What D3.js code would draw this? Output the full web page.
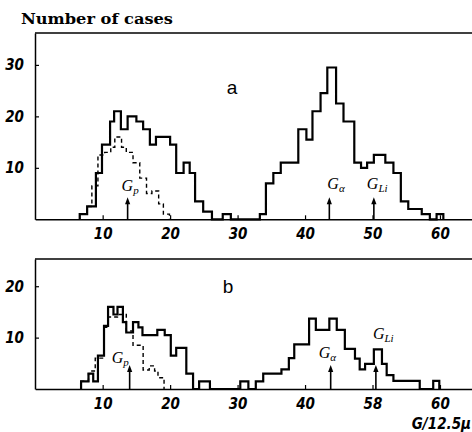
<!DOCTYPE html>
<html>
<head>
<meta charset="utf-8">
<script src="https://cdn.jsdelivr.net/npm/d3@7"></script>
<style>
body { margin: 0; background: #fff; }
svg { display: block; }
.tick text { font-family: "Liberation Sans Narrow", "DejaVu Sans Condensed", sans-serif; font-style: italic; font-weight: bold; font-size: 15px; }
</style>
</head>
<body>
<svg id="chart" width="472" height="432"></svg>
<script>
'use strict'

// steps: [left edge in G/12.5u, number of cases], a 0 closes the outline
const aSolid = [
	[6.6, 1], [7.7, 2.5], [9.0, 9], [9.9, 14.5], [11.1, 19], [11.7, 21], [12.7, 17.5], [13.7, 20],
	[15.0, 19], [16.0, 17.5], [17.0, 14.5], [17.9, 16], [20.0, 14.5], [20.9, 9], [22.0, 11], [22.9, 9],
	[23.7, 3.5], [24.9, 1.5], [26.2, 0], [27.8, 1], [29.0, 0],
	[33.3, 1], [34.2, 7], [35.3, 9], [36.4, 11], [39.0, 17.5], [40.2, 15.5], [41.1, 21], [42.3, 24.5],
	[43.3, 29.5], [44.6, 22.5], [45.7, 19], [47.3, 11], [48.3, 10], [49.2, 11], [50.2, 12.5], [51.9, 11],
	[53.1, 9], [54.2, 3.5], [55.3, 2], [57.3, 1], [58.5, 0], [59.5, 1], [60.5, 0]
]
const aDashed = [
	[6.6, 1], [7.7, 2.5], [8.4, 6.5], [9.3, 12.5], [10.3, 13], [11.2, 14], [11.8, 16], [12.8, 14],
	[13.5, 13], [14.5, 11], [15.5, 8], [16.5, 5], [17.3, 5.5], [18.3, 3], [19.0, 1], [19.9, 0]
]
const bSolid = [
	[6.8, 1.5], [7.9, 3], [8.6, 1.5], [9.3, 6.5], [10.2, 12.3], [10.8, 16], [11.6, 14.5], [12.2, 16],
	[13.0, 13], [13.5, 11], [14.5, 13], [15.3, 12], [15.9, 10.5], [18.1, 11.5], [19.2, 10.5], [20.1, 6.5],
	[20.9, 8], [22.4, 3], [23.4, 0], [24.3, 1.5], [25.9, 0], [30.4, 1.5], [31.6, 0],
	[32.7, 1.5], [33.8, 3], [36.5, 3.8], [37.6, 6], [38.4, 8.7], [40.6, 13.7], [41.6, 11.5], [43.6, 13.7],
	[44.7, 11.5], [45.9, 7.8], [47.4, 5.9], [48.1, 3.8], [48.9, 4.9], [50.2, 7.7], [51.4, 4.9], [52.1, 2.7],
	[53.1, 1.6], [57.0, 0], [59.0, 1.6], [59.9, 0]
]
const bDashed = [
	[6.8, 1.5], [7.9, 3], [8.4, 3.5], [8.9, 6], [10.2, 12], [10.8, 14], [12.2, 14.5], [13.5, 11.3],
	[14.5, 8.5], [16.0, 3.7], [16.9, 4.5], [17.7, 3.5], [18.2, 2.2], [19.1, 0]
]

const xTicks = [10, 20, 30, 40, 50, 60]
const aXLabels = ['10', '20', '30', '40', '50', '60']
const bXLabels = ['10', '20', '30', '40', '58', '60']
const aYTicks = [10, 20, 30]
const bYTicks = [10, 20]

// arrow positions of the marked G values
const markNames = ['p', 'α', 'Li']
const aMarks = [13.7, 43.6, 50.2]
const bMarks = [14.0, 43.8, 50.5]

const svg = d3.select('#chart')
const x = d3.scaleLinear().domain([0, 65]).range([35.2, 473.7])

const panels = [
	{ top: 33, base: 219.3, max: 36.2, solid: aSolid, dashed: aDashed, yTicks: aYTicks, xLabels: aXLabels,
		marks: aMarks, letter: 'a', letterPos: [232, 94], arrowLen: 22,
		labelOff: [[-6, -6], [-2, -8], [-7, -8]] },
	{ top: 259, base: 389, max: 25.3, solid: bSolid, dashed: bDashed, yTicks: bYTicks, xLabels: bXLabels,
		marks: bMarks, letter: 'b', letterPos: [228, 293], arrowLen: 24,
		labelOff: [[-18, -2], [-12, -7], [-3, -26]] }
]

function drawArrow(g, px, y0, y1) {
	g.append('line')
		.attr('x1', px).attr('x2', px)
		.attr('y1', y0).attr('y2', y1 + 5)
		.attr('stroke', '#000').attr('stroke-width', 1.6)
	g.append('path')
		.attr('d', 'M' + (px - 2.6) + ',' + (y1 + 7) + 'L' + px + ',' + y1 + 'L' + (px + 2.6) + ',' + (y1 + 7) + 'Z')
		.attr('fill', '#000')
}

function drawLabel(g, px, py, sub) {
	let t = g.append('text')
		.attr('x', px).attr('y', py)
		.attr('font-family', '"Liberation Serif", "DejaVu Serif", serif')
		.attr('font-style', 'italic')
		.attr('font-size', 16)
	t.append('tspan').text('G')
	t.append('tspan').attr('font-size', 11).attr('dy', 3).text(sub)
}

panels.forEach(function(p) {
	let y = d3.scaleLinear().domain([0, p.max]).range([p.base, p.top])
	let g = svg.append('g')

	g.append('line')
		.attr('x1', 35).attr('x2', 472)
		.attr('y1', p.top).attr('y2', p.top)
		.attr('stroke', '#000').attr('stroke-width', 1.5)

	let yAxis = g.append('g')
		.attr('transform', 'translate(35,0)')
		.call(d3.axisLeft(y).tickValues(p.yTicks).tickSizeInner(-4).tickSizeOuter(0).tickPadding(11))
	let xAxis = g.append('g')
		.attr('transform', 'translate(0,' + p.base + ')')
		.call(d3.axisBottom(x).tickValues(xTicks).tickFormat(function(d, i) { return p.xLabels[i] })
			.tickSizeInner(-4).tickSizeOuter(0).tickPadding(9))
	;[yAxis, xAxis].forEach(function(a) {
		a.select('.domain').attr('stroke-width', 1.5)
		a.selectAll('.tick line').attr('stroke-width', 1.2)
	})

	let line = d3.line()
		.x(function(d) { return x(d[0]) })
		.y(function(d) { return y(d[1]) })
		.curve(d3.curveStepAfter)

	g.append('path')
		.attr('d', line([[p.dashed[0][0], 0]].concat(p.dashed)))
		.attr('fill', 'none').attr('stroke', '#000')
		.attr('stroke-width', 1.4).attr('stroke-dasharray', '4,3')
	g.append('path')
		.attr('d', line([[p.solid[0][0], 0]].concat(p.solid)))
		.attr('fill', 'none').attr('stroke', '#000')
		.attr('stroke-width', 2.2).attr('stroke-linejoin', 'miter')

	p.marks.forEach(function(m, i) {
		let px = x(m)
		let top = p.base - p.arrowLen
		drawArrow(g, px, p.base, top)
		drawLabel(g, px + p.labelOff[i][0], top + p.labelOff[i][1], markNames[i])
	})

	g.append('text')
		.attr('x', p.letterPos[0]).attr('y', p.letterPos[1])
		.attr('text-anchor', 'middle')
		.attr('font-family', '"Liberation Sans", Arial, sans-serif')
		.attr('font-size', 19)
		.text(p.letter)
})

svg.append('text')
	.attr('x', 21).attr('y', 24)
	.attr('font-family', '"DejaVu Serif", "Liberation Serif", serif')
	.attr('font-weight', 'bold')
	.attr('font-size', 15)
	.attr('textLength', 152)
	.attr('lengthAdjust', 'spacingAndGlyphs')
	.text('Number of cases')

svg.append('text')
	.attr('x', 471).attr('y', 429)
	.attr('text-anchor', 'end')
	.attr('font-family', '"Liberation Sans Narrow", "DejaVu Sans Condensed", sans-serif')
	.attr('font-style', 'italic')
	.attr('font-weight', 'bold')
	.attr('font-size', 15)
	.text('G/12.5μ')
</script>
</body>
</html>
